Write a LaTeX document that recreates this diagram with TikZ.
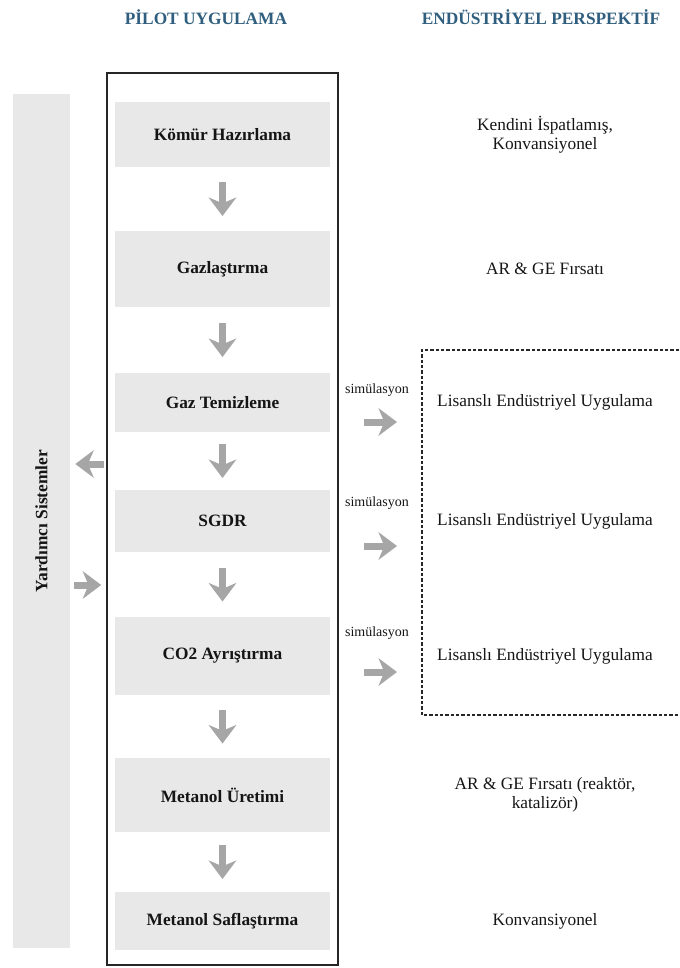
\documentclass[tikz,border=0pt]{standalone}
\usepackage{fontspec}
\setmainfont{Liberation Serif}
\usetikzlibrary{arrows.meta,calc}
\definecolor{boxgray}{HTML}{E8E8E8}
\definecolor{arrowgray}{HTML}{A6A6A6}
\definecolor{headblue}{HTML}{2F5E7E}
\definecolor{ink}{HTML}{151515}
\begin{document}
\begin{tikzpicture}[x=0.75pt,y=-0.75pt,
  proc/.style 2 args={fill=boxgray, inner sep=0pt, minimum width=161.25pt,
    minimum height=#2, font=\fontsize{13}{15}\selectfont\bfseries, text=ink},
  side/.style={align=center, inner sep=0pt, font=\fontsize{13}{14}\selectfont, text=ink},
  head/.style={inner sep=0pt, font=\fontsize{13}{15}\selectfont\bfseries, text=headblue},
  sim/.style={inner sep=0pt, font=\fontsize{10.5}{12}\selectfont, text=ink},
  fatarrow/.style={draw=arrowgray, line width=5.25pt,
    -{Stealth[length=14pt, width=21pt, inset=4.5pt, line width=0pt]}},
  frame/.style={draw=black!85, line width=1.2pt, inner sep=0pt},
  openframe/.style={draw=black!85, line width=1.1pt, dash pattern=on 2.4pt off 1.6pt},
]
\useasboundingbox (0,0) rectangle (679,968);

% column headings
\node[head] (hpilot) at (206,17) {PİLOT UYGULAMA};
\node[head] (hind) at (541,17) {ENDÜSTRİYEL PERSPEKTİF};

% auxiliary systems bar
\node[fill=boxgray, inner sep=0pt, minimum width=42.75pt, minimum height=640.5pt,
  label={[rotate=90, font=\fontsize{13}{15}\selectfont\bfseries, text=ink]center:Yardımcı Sistemler}]
  (aux) at (41.5,521) {};

% pilot frame
\node[frame, minimum width=173.25pt, minimum height=669pt] (pilot) at (222.5,519) {};

% process steps
\node[proc={}{48.75pt}] (b1) at (222.5,134.5) {Kömür Hazırlama};
\node[proc={}{57pt}]    (b2) at (222.5,269)   {Gazlaştırma};
\node[proc={}{44.25pt}] (b3) at (222.5,402.5) {Gaz Temizleme};
\node[proc={}{46.5pt}]  (b4) at (222.5,521)   {SGDR};
\node[proc={}{58.5pt}]  (b5) at (222.5,656)   {CO2 Ayrıştırma};
\node[proc={}{55.5pt}]  (b6) at (222.5,795)   {Metanol Üretimi};
\node[proc={}{43.5pt}]  (b7) at (222.5,921)   {Metanol Saflaştırma};

% flow between steps
\foreach \a/\b in {b1/b2,b2/b3,b3/b4,b4/b5,b5/b6,b6/b7}
  \draw[fatarrow] ($(\a.south)!.5!(\b.north)-(0,17)$) -- ($(\a.south)!.5!(\b.north)+(0,17)$);

% exchange with auxiliary systems
\draw[fatarrow, shorten <=1.5pt, shorten >=3.75pt] (pilot.west |- 0,464) -- (aux.east |- 0,464);
\draw[fatarrow, shorten <=3pt, shorten >=3.75pt] (aux.east |- 0,585) -- (pilot.west |- 0,585);

% licensed industrial region
\coordinate (lic) at (422,532);
\draw[openframe] (679,350) -| (422,715) -- (679,715);

% simulation links
\node[sim] (s3) at (377,390) {simülasyon};
\node[sim] (s4) at (377,503) {simülasyon};
\node[sim] (s5) at (377,633) {simülasyon};
\draw[fatarrow, shorten <=18.75pt, shorten >=18.75pt] (pilot.east |- 0,422) -- (lic |- 0,422);
\draw[fatarrow, shorten <=18.75pt, shorten >=18.75pt] (pilot.east |- 0,546) -- (lic |- 0,546);
\draw[fatarrow, shorten <=18.75pt, shorten >=18.75pt] (pilot.east |- 0,672) -- (lic |- 0,672);

% industrial perspective
\node[side] (p1) at (b1 -| 545,0) {Kendini İspatlamış,\\Konvansiyonel};
\node[side] (p2) at (b2 -| 545,0) {AR \& GE Fırsatı};
\node[side] (p3) at (b3 -| 545,0) {Lisanslı Endüstriyel Uygulama};
\node[side] (p4) at (b4 -| 545,0) {Lisanslı Endüstriyel Uygulama};
\node[side] (p5) at (b5 -| 545,0) {Lisanslı Endüstriyel Uygulama};
\node[side] (p6) at (b6 -| 545,0) {AR \& GE Fırsatı (reaktör,\\katalizör)};
\node[side] (p7) at (b7 -| 545,0) {Konvansiyonel};
\end{tikzpicture}
\end{document}
